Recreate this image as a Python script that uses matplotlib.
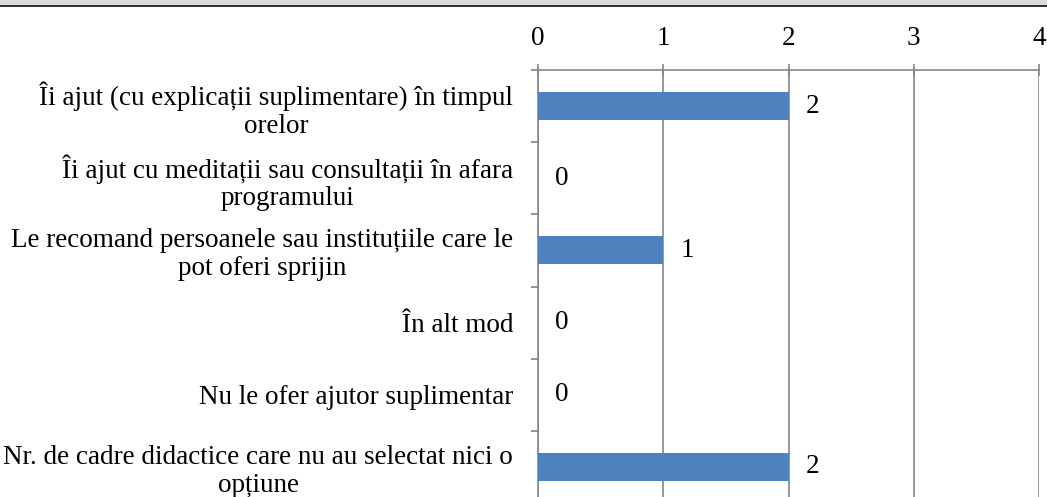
import matplotlib
matplotlib.use("Agg")
import matplotlib.pyplot as plt
from matplotlib.patches import Rectangle
import numpy as np

categories = [
    "Îi ajut (cu explicații suplimentare) în timpul\norelor",
    "Îi ajut cu meditații sau consultații în afara\nprogramului",
    "Le recomand persoanele sau instituțiile care le\npot oferi sprijin",
    "În alt mod",
    "Nu le ofer ajutor suplimentar",
    "Nr. de cadre didactice care nu au selectat nici o\nopțiune",
]
values = [2, 0, 1, 0, 0, 2]
xticks = [0, 1, 2, 3, 4]

plt.rcParams['font.family'] = ['Liberation Serif', 'DejaVu Serif']
FS = 19.5
GRAY = '#868686'

fig = plt.figure(figsize=(10.47, 4.97), dpi=100)
ax = fig.add_axes([538/1047, 1 - 503/497, (1039-538)/1047, 433/497])

y = np.arange(len(categories))
ax.barh(y, values, height=0.39, color='#4f81bd', zorder=3)
ax.set_ylim(len(categories) - 0.5, -0.5)
ax.set_xlim(0, 4)

for yi, v in zip(y, values):
    ax.text(v + 0.19, yi, str(v), va='center', ha='center', fontsize=FS, zorder=4)

ax.xaxis.tick_top()
ax.set_xticks(xticks)
ax.set_xticklabels([str(t) for t in xticks], fontsize=FS)
ax.tick_params(axis='x', direction='inout', length=9, width=1.2, color=GRAY, pad=9)
ax.xaxis.grid(True, color=GRAY, lw=1.2, zorder=0)

ax.set_yticks(y)
ax.set_yticklabels(categories, fontsize=FS, ha='right', multialignment='center',
                   linespacing=1.15)
ax.tick_params(axis='y', which='major', length=0, pad=18)
ax.set_yticks(np.arange(-0.5, len(categories), 1), minor=True)
ax.tick_params(axis='y', which='minor', direction='out', length=5, width=1.2, color=GRAY)

for s in ['right', 'bottom']:
    ax.spines[s].set_visible(False)
for s in ['top', 'left']:
    ax.spines[s].set_color(GRAY)
    ax.spines[s].set_linewidth(1.2)

# cut-off title band at the top
fig.patches.append(Rectangle((0, 1 - 5/497), 1, 5/497, transform=fig.transFigure,
                             facecolor='#d9d9d9', edgecolor='none'))
fig.patches.append(Rectangle((0, 1 - 7/497), 1, 2/497, transform=fig.transFigure,
                             facecolor='#333333', edgecolor='none'))

fig.savefig('out.png', dpi=100)
